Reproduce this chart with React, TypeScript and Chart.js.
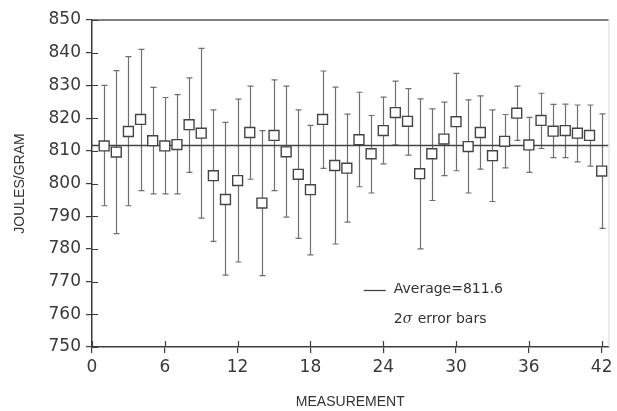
import React, { useEffect, useRef } from "react";
import { Chart, registerables } from "chart.js";

Chart.register(...registerables);

const MEASUREMENTS = [1, 2, 3, 4, 5, 6, 7, 8, 9, 10, 11, 12, 13, 14, 15, 16, 17, 18, 19, 20, 21, 22, 23, 24, 25, 26, 27, 28, 29, 30, 31, 32, 33, 34, 35, 36, 37, 38, 39, 40, 41, 42];
const MEAN = [811.5, 809.6, 815.9, 819.6, 813.1, 811.5, 811.9, 818.0, 815.4, 802.4, 795.1, 800.9, 815.6, 794.0, 814.7, 809.7, 802.8, 798.1, 819.6, 805.5, 804.7, 813.4, 809.1, 816.2, 821.7, 819.0, 803.0, 809.1, 813.6, 818.9, 811.3, 815.6, 808.5, 812.9, 821.5, 811.8, 819.3, 816.0, 816.2, 815.4, 814.7, 803.8];
const UPPER = [830.0, 834.5, 838.8, 841.0, 829.4, 826.3, 827.2, 832.3, 841.3, 822.5, 818.7, 825.8, 829.8, 816.2, 831.7, 829.8, 822.5, 817.8, 834.4, 829.5, 821.2, 827.9, 820.8, 826.4, 831.3, 829.0, 825.9, 822.8, 824.9, 833.7, 825.6, 826.8, 822.5, 821.1, 829.8, 820.2, 827.6, 824.2, 824.3, 824.0, 824.0, 821.3];
const LOWER = [793.2, 784.7, 793.2, 797.8, 796.8, 796.8, 796.8, 803.4, 789.4, 782.3, 772.0, 776.0, 801.3, 771.8, 797.8, 789.7, 783.2, 778.2, 804.6, 781.5, 788.2, 799.0, 797.1, 806.0, 811.8, 808.7, 780.0, 794.8, 802.4, 803.9, 797.1, 804.4, 794.5, 804.8, 813.2, 803.4, 810.7, 807.9, 807.9, 806.6, 805.3, 786.3];
const AVERAGE = 811.6;
const X_TICKS = [0, 6, 12, 18, 24, 30, 36, 42];
const X_MIN = 0;
const X_MAX = 42.57;
const Y_MIN = 750;
const Y_MAX = 850;
const Y_STEP = 10;
const LEGEND_AVG = "Average=811.6";
const LEGEND_ERR = ["2", "σ", " error bars"];

const INK = "#3c3c3c";
const BAR = "#707070";

const errorBarPlugin = {
  id: "errorBars",
  beforeDatasetsDraw(chart: any) {
    const ctx = chart.ctx;
    const xs = chart.scales.x;
    const ys = chart.scales.y;
    ctx.save();
    ctx.strokeStyle = BAR;
    ctx.lineWidth = 1.2;
    MEASUREMENTS.forEach((m, i) => {
      const px = Math.round(xs.getPixelForValue(m)) + 0.5;
      const top = ys.getPixelForValue(UPPER[i]);
      const bot = ys.getPixelForValue(LOWER[i]);
      ctx.beginPath();
      ctx.moveTo(px, top);
      ctx.lineTo(px, bot);
      ctx.moveTo(px - 3, top);
      ctx.lineTo(px + 3, top);
      ctx.moveTo(px - 3, bot);
      ctx.lineTo(px + 3, bot);
      ctx.stroke();
    });
    ctx.restore();
  },
};

const framePlugin = {
  id: "frame",
  afterDraw(chart: any) {
    const ctx = chart.ctx;
    const a = chart.chartArea;
    const xs = chart.scales.x;
    const ys = chart.scales.y;
    ctx.save();
    ctx.strokeStyle = "#555";
    ctx.lineWidth = 1.5;
    ctx.beginPath();
    ctx.moveTo(a.left, a.top);
    ctx.lineTo(a.right, a.top);
    ctx.stroke();
    ctx.strokeStyle = "#d8d8d8";
    ctx.lineWidth = 1;
    ctx.beginPath();
    ctx.moveTo(a.right + 0.5, a.top);
    ctx.lineTo(a.right + 0.5, a.bottom);
    ctx.stroke();
    ctx.strokeStyle = INK;
    ctx.lineWidth = 1.2;
    ctx.beginPath();
    xs.ticks.forEach((t: any) => {
      const px = Math.round(xs.getPixelForValue(t.value)) + 0.5;
      ctx.moveTo(px, a.bottom);
      ctx.lineTo(px, a.bottom - 6);
    });
    ys.ticks.forEach((t: any) => {
      const py = Math.round(ys.getPixelForValue(t.value)) + 0.5;
      ctx.moveTo(a.left, py);
      ctx.lineTo(a.left + 6, py);
    });
    ctx.stroke();
    // legend
    const lx = a.left + (a.right - a.left) * 0.586;
    const y1 = ys.getPixelForValue(Y_MIN + (Y_MAX - Y_MIN) * 0.175);
    const y2 = ys.getPixelForValue(Y_MIN + (Y_MAX - Y_MIN) * 0.085);
    ctx.strokeStyle = "#444";
    ctx.lineWidth = 1.3;
    ctx.beginPath();
    ctx.moveTo(lx - 31, Math.round(y1) + 0.5);
    ctx.lineTo(lx - 9, Math.round(y1) + 0.5);
    ctx.stroke();
    ctx.fillStyle = "#333";
    ctx.textBaseline = "middle";
    ctx.textAlign = "left";
    const tx = lx - 1;
    ctx.font = "14px 'DejaVu Sans'";
    ctx.fillText(LEGEND_AVG, tx, y1);
    let cx = tx;
    ctx.fillText(LEGEND_ERR[0], cx, y2);
    cx += ctx.measureText(LEGEND_ERR[0]).width;
    ctx.font = "italic 14px 'DejaVu Serif'";
    ctx.fillText(LEGEND_ERR[1], cx, y2);
    cx += ctx.measureText(LEGEND_ERR[1]).width + 1;
    ctx.font = "14px 'DejaVu Sans'";
    ctx.fillText(LEGEND_ERR[2], cx, y2);
    ctx.restore();
  },
};

export default function App() {
  const ref = useRef<HTMLCanvasElement | null>(null);

  useEffect(() => {
    document.body.style.margin = "0";
    const canvas = ref.current;
    if (!canvas) return;
    const chart = new Chart(canvas, {
      type: "scatter",
      data: {
        datasets: [
          {
            type: "line",
            label: "Average",
            data: [
              { x: X_MIN, y: AVERAGE },
              { x: X_MAX, y: AVERAGE },
            ],
            borderColor: "#444",
            borderWidth: 1.5,
            pointRadius: 0,
            fill: false,
            order: 3,
          } as any,
          {
            label: "Measurement",
            data: MEASUREMENTS.map((m, i) => ({ x: m, y: MEAN[i] })),
            pointStyle: "rect",
            pointRadius: 7,
            pointHoverRadius: 7,
            borderColor: "#444",
            borderWidth: 1.4,
            backgroundColor: "#ffffff",
            order: 1,
          },
        ],
      },
      options: {
        responsive: false,
        animation: false,
        events: [],
        layout: { padding: { left: 12, top: 20, right: 5, bottom: 0 } },
        plugins: {
          legend: { display: false },
          tooltip: { enabled: false },
        },
        scales: {
          x: {
            type: "linear",
            min: X_MIN,
            max: X_MAX,
            afterBuildTicks: (s: any) => {
              s.ticks = X_TICKS.map((v) => ({ value: v }));
            },
            afterFit: (s: any) => {
              s.height = 64;
            },
            grid: {
              drawOnChartArea: false,
              drawTicks: true,
              tickLength: 6,
              color: INK,
              lineWidth: 1.2,
            },
            border: { color: INK, width: 1.5 },
            ticks: {
              color: "#3a3a3a",
              font: { family: "'DejaVu Sans'", size: 17 },
              padding: 4,
              maxRotation: 0,
            },
            title: {
              display: true,
              text: "MEASUREMENT",
              color: "#333",
              font: { family: "'Liberation Sans'", size: 14 },
              padding: { top: 4, bottom: 0 },
            },
          },
          y: {
            min: Y_MIN,
            max: Y_MAX,
            ticks: {
              stepSize: Y_STEP,
              color: "#3a3a3a",
              font: { family: "'DejaVu Sans'", size: 17 },
              padding: 5,
            },
            afterFit: (s: any) => {
              s.width = 80;
            },
            grid: {
              drawOnChartArea: false,
              drawTicks: true,
              tickLength: 6,
              color: INK,
              lineWidth: 1.2,
            },
            border: { color: INK, width: 1.5 },
            title: {
              display: true,
              text: "JOULES/GRAM",
              color: "#333",
              font: { family: "'Liberation Sans'", size: 14 },
              padding: 0,
            },
          },
        },
      },
      plugins: [errorBarPlugin, framePlugin],
    });
    return () => chart.destroy();
  }, []);

  return (
    <div style={{ position: "absolute", left: 0, top: 0, width: 617, height: 411 }}>
      <canvas ref={ref} width={617} height={411} style={{ width: 617, height: 411 }} />
    </div>
  );
}
